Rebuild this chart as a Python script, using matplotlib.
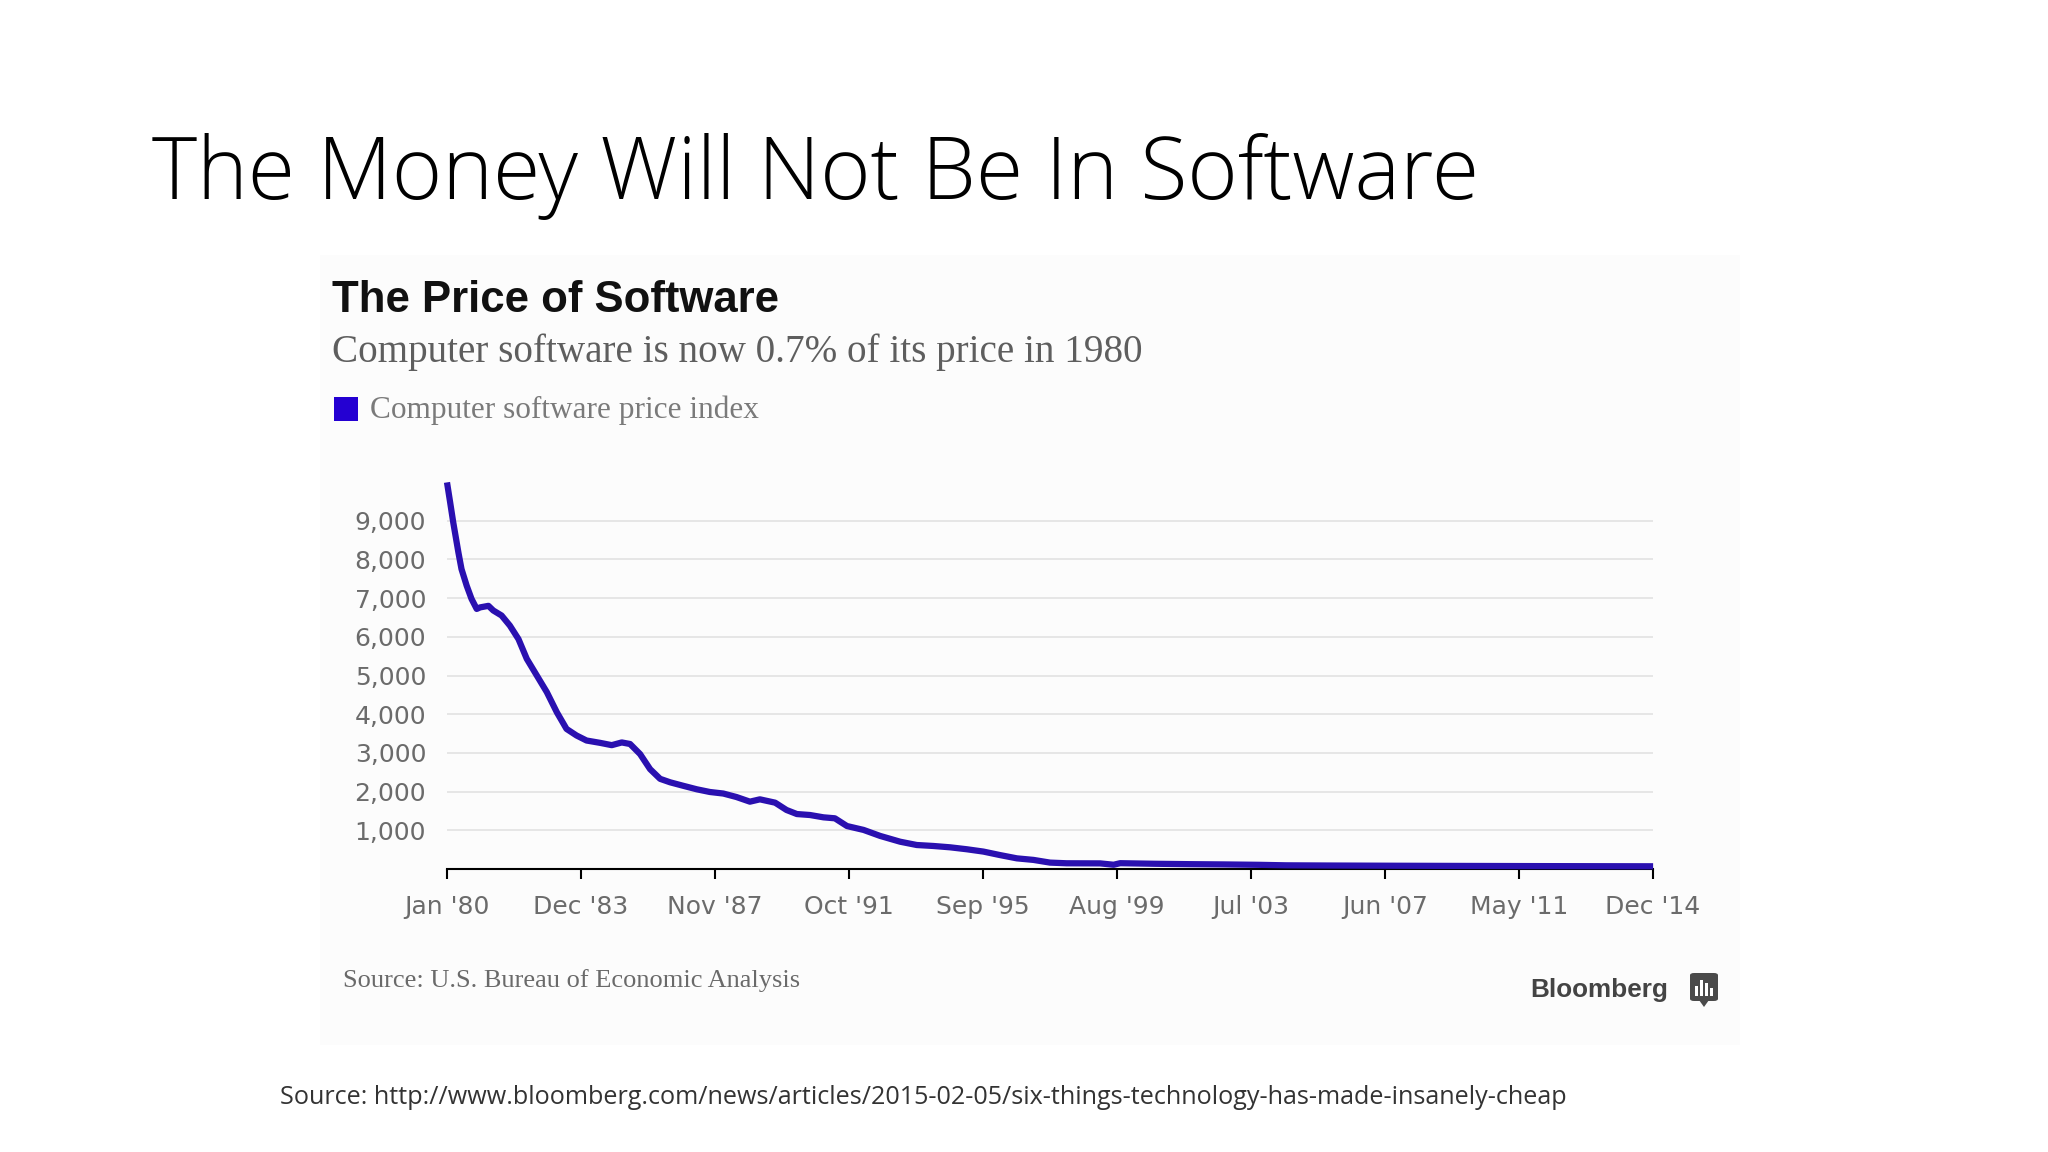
import numpy as np
import matplotlib
matplotlib.use("Agg")
import matplotlib.pyplot as plt
from matplotlib.patches import Rectangle, FancyBboxPatch, Polygon

# data (decimal year, price index)
years = [1980.00, 1980.09, 1980.18, 1980.33, 1980.42, 1980.57, 1980.71, 1980.86,
         1980.96, 1981.20, 1981.34, 1981.58, 1981.82, 1982.07, 1982.31, 1982.60,
         1982.89, 1983.18, 1983.46, 1983.75, 1984.04, 1984.43, 1984.77, 1985.06,
         1985.30, 1985.59, 1985.88, 1986.17, 1986.46, 1986.84, 1987.23, 1987.61,
         1988.00, 1988.38, 1988.77, 1989.06, 1989.50, 1989.83, 1990.13, 1990.51,
         1990.90, 1991.23, 1991.58, 1992.06, 1992.54, 1993.12, 1993.60, 1994.08,
         1994.57, 1995.05, 1995.53, 1996.01, 1996.50, 1996.98, 1997.46, 1997.94,
         1998.91, 1999.30, 1999.49, 2000.50, 2001.50, 2002.50, 2003.50, 2004.30,
         2005.50, 2007.50, 2009.50, 2011.50, 2013.50, 2014.92]
index_values = [9990, 9480, 8960, 8180, 7750, 7320, 6980, 6720,
                6760, 6800, 6680, 6550, 6290, 5940, 5430, 5000,
                4570, 4050, 3620, 3450, 3320, 3260, 3200, 3270,
                3230, 2970, 2580, 2330, 2240, 2150, 2060, 1990,
                1950, 1860, 1740, 1800, 1714, 1525, 1420, 1395,
                1335, 1310, 1110, 1010, 855, 705, 620, 595,
                560, 510, 450, 360, 275, 235, 165, 148,
                145, 110, 150, 135, 125, 118, 108, 95,
                90, 84, 79, 75, 72, 70]

x_tick_labels = ["Jan '80", "Dec '83", "Nov '87", "Oct '91", "Sep '95",
                 "Aug '99", "Jul '03", "Jun '07", "May '11", "Dec '14"]
y_ticks = [1000, 2000, 3000, 4000, 5000, 6000, 7000, 8000, 9000]

W, H = 2048, 1152
fig = plt.figure(figsize=(W / 100, H / 100), dpi=100)
fig.patch.set_facecolor("white")


def fx(x):
    return x / W


def fy(y):
    return 1 - y / H


# faint background of the pasted chart image
fig.add_artist(Rectangle((fx(320), fy(1045)), fx(1420), 790 / H,
                         transform=fig.transFigure, facecolor="#fcfcfc",
                         edgecolor="none", zorder=-5))

# slide title and footer
fig.text(fx(152), fy(199), "The Money Will Not Be In Software", family="Open Sans",
         weight="light", fontsize=62, color="black", va="baseline", ha="left")
fig.text(fx(280), fy(1104),
         "Source: http://www.bloomberg.com/news/articles/2015-02-05/six-things-technology-has-made-insanely-cheap",
         family="Open Sans", fontsize=18.05, color="#333333", va="baseline", ha="left")

# chart header
fig.text(fx(332), fy(312), "The Price of Software", family="Liberation Sans", weight="bold",
         fontsize=31.5, color="#111111", va="baseline", ha="left")
fig.text(fx(332), fy(362), "Computer software is now 0.7% of its price in 1980",
         family="Liberation Serif", fontsize=28.2, color="#5e5e5e", va="baseline", ha="left")
fig.add_artist(Rectangle((fx(334), fy(421)), 24 / W, 24 / H, transform=fig.transFigure,
                         facecolor="#2400d2", edgecolor="none"))
fig.text(fx(370), fy(410), "Computer software price index", family="Liberation Serif",
         fontsize=22.5, color="#7a7a7a", va="center", ha="left")

# plot area
ax = fig.add_axes([fx(447), fy(869), fx(1653) - fx(447), 387 / H])
ax.set_facecolor("none")
ax.plot(years, index_values, color="#2a10b0", lw=4.5, solid_joinstyle="round",
        solid_capstyle="butt", clip_on=False, zorder=3)
ax.set_xlim(1980, 2014 + 11 / 12)
ax.set_ylim(0, 10000)

ax.set_xticks(np.linspace(1980, 2014 + 11 / 12, len(x_tick_labels)))
ax.set_xticklabels(x_tick_labels)
ax.set_yticks(y_ticks)
ax.set_yticklabels([f"{v:,}" for v in y_ticks])
ax.yaxis.grid(True, color="#e2e2e2", lw=1.2)
ax.set_axisbelow(True)

for s in ["top", "right", "left"]:
    ax.spines[s].set_visible(False)
ax.spines["bottom"].set_color("black")
ax.spines["bottom"].set_linewidth(1.5)
ax.tick_params(axis="x", direction="out", length=7.5, width=1.5, color="black",
               pad=11, labelsize=18, labelcolor="#6b6b6b")
ax.tick_params(axis="y", length=0, pad=15, labelsize=18, labelcolor="#6b6b6b")
for lab in ax.get_xticklabels() + ax.get_yticklabels():
    lab.set_family("DejaVu Sans")

# source and logo
fig.text(fx(343), fy(981), "Source: U.S. Bureau of Economic Analysis", family="Liberation Serif",
         fontsize=19, color="#6a6a6a", va="center", ha="left")
fig.text(fx(1530), fy(997), "Bloomberg", family="Liberation Sans", weight="bold",
         fontsize=18.8, color="#444444", va="baseline", ha="left")
fig.add_artist(FancyBboxPatch((fx(1690), fy(1001)), 28 / W, 28 / H,
                              boxstyle="round,pad=0,rounding_size=0.002",
                              transform=fig.transFigure, facecolor="#4a4a4a",
                              edgecolor="none"))
fig.add_artist(Polygon([(fx(1699), fy(1000)), (fx(1709), fy(1000)), (fx(1704), fy(1007))],
                       closed=True, transform=fig.transFigure, facecolor="#4a4a4a",
                       edgecolor="none"))
for bx, bh in [(1695, 10), (1700, 16), (1705, 13), (1710, 8)]:
    fig.add_artist(Rectangle((fx(bx), fy(996)), 3 / W, bh / H, transform=fig.transFigure,
                             facecolor="white", edgecolor="none"))

fig.savefig("out.png", dpi=100)
